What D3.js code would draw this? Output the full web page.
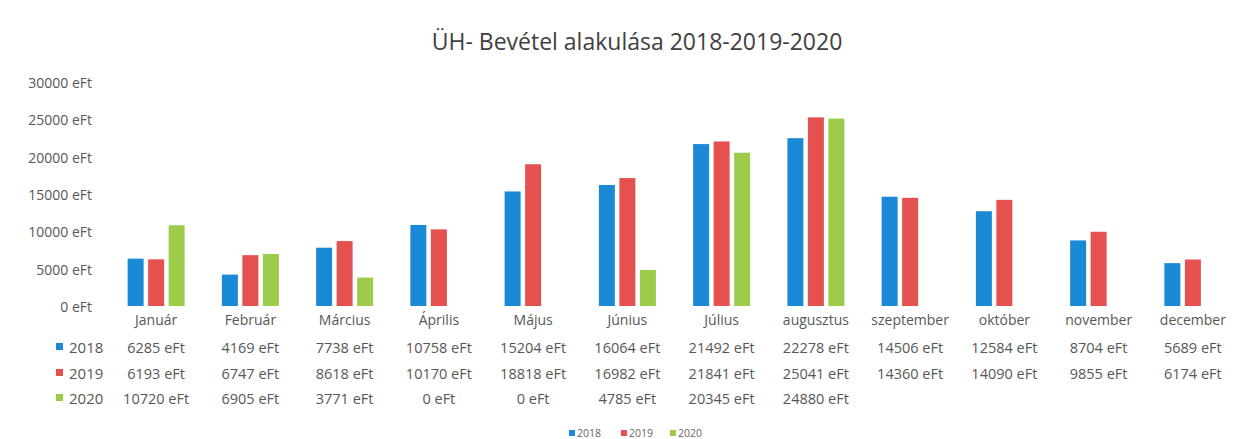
<!DOCTYPE html>
<html>
<head>
<meta charset="utf-8">
<script src="https://cdn.jsdelivr.net/npm/d3@7"></script>
<style>
  html, body { margin: 0; padding: 0; background: #ffffff; }
  svg { display: block; font-family: "Open Sans", "Noto Sans", sans-serif; }
</style>
</head>
<body>
<svg id="chart" width="1244" height="439"></svg>
<script>
const title = "ÜH- Bevétel alakulása 2018-2019-2020";
const months = ["Január","Február","Március","Április","Május","Június","Július","augusztus","szeptember","október","november","december"];
const years = ["2018","2019","2020"];
const values2018 = [6285, 4169, 7738, 10758, 15204, 16064, 21492, 22278, 14506, 12584, 8704, 5689];
const values2019 = [6193, 6747, 8618, 10170, 18818, 16982, 21841, 25041, 14360, 14090, 9855, 6174];
const values2020 = [10720, 6905, 3771, 0, 0, 4785, 20345, 24880, null, null, null, null];
const yTicks = [0, 5000, 10000, 15000, 20000, 25000, 30000];
const unit = " eFt";
const colors = ["#1b8ad6", "#e5514f", "#9dcb4a"];

const series = [values2018, values2019, values2020];

const svg = d3.select("#chart");
const textColor = "#575757";

// Scales
const x0 = d3.scaleBand().domain(months).range([109, 1240]).padding(0);
const groupW = 57;
const x1 = d3.scaleBand().domain(years).range([0, groupW]).paddingInner(0.22).paddingOuter(0);
const y = d3.scaleLinear().domain([0, 30000]).range([306, 80]);

// Title
svg.append("text")
  .attr("x", 637).attr("y", 50)
  .attr("text-anchor", "middle")
  .attr("font-size", 23)
  .attr("fill", "#404040")
  .text(title);

// Y axis (labels only)
const yAxis = d3.axisLeft(d3.scaleLinear().domain([0, 30000]).range([307, 83]))
  .tickValues(yTicks).tickSize(0).tickPadding(0)
  .tickFormat(d => d + unit);
const yg = svg.append("g").attr("transform", "translate(92,0)").call(yAxis);
yg.select(".domain").remove();
yg.selectAll("text").attr("font-size", 14).attr("fill", textColor)
  .attr("font-family", "\"Open Sans\", sans-serif");

// Bars
const groups = svg.append("g").selectAll("g")
  .data(months)
  .join("g")
  .attr("transform", d => `translate(${x0(d) + (x0.bandwidth() - groupW) / 2},0)`);

groups.selectAll("rect")
  .data((m, i) => years.map((yr, s) => ({ yr, s, v: series[s][i] })).filter(d => d.v != null && d.v > 0))
  .join("rect")
  .attr("x", d => x1(d.yr))
  .attr("width", x1.bandwidth())
  .attr("y", d => y(d.v))
  .attr("height", d => y(0) - y(d.v))
  .attr("fill", d => colors[d.s]);

// Category labels (x axis)
const xAxis = d3.axisBottom(x0).tickSize(0).tickPadding(0);
const xg = svg.append("g").attr("transform", "translate(0,315)").call(xAxis);
xg.select(".domain").remove();
xg.selectAll("text").attr("font-size", 14).attr("fill", textColor)
  .attr("font-family", "\"Open Sans\", sans-serif");

// Data table rows
const rowY = [353, 379, 404];
years.forEach((yr, s) => {
  const row = svg.append("g");
  row.append("rect")
    .attr("x", 56).attr("y", rowY[s] - 10)
    .attr("width", 7).attr("height", 7)
    .attr("fill", colors[s]);
  row.append("text")
    .attr("x", 69).attr("y", rowY[s])
    .attr("font-size", 15).attr("fill", textColor)
    .text(yr);
  row.selectAll("text.val")
    .data(months.map((m, i) => ({ m, v: series[s][i] })).filter(d => d.v != null))
    .join("text")
    .attr("class", "val")
    .attr("x", d => x0(d.m) + x0.bandwidth() / 2)
    .attr("y", rowY[s])
    .attr("text-anchor", "middle")
    .attr("font-size", 14.5)
    .attr("fill", textColor)
    .text(d => d.v + unit);
});

// Bottom legend
const legendX = [569, 621, 670];
const lg = svg.append("g");
years.forEach((yr, s) => {
  lg.append("rect")
    .attr("x", legendX[s]).attr("y", 430)
    .attr("width", 6).attr("height", 6)
    .attr("fill", colors[s]);
  lg.append("text")
    .attr("x", legendX[s] + 8).attr("y", 437)
    .attr("font-size", 10.5).attr("fill", "#666")
    .text(yr);
});
</script>
</body>
</html>
